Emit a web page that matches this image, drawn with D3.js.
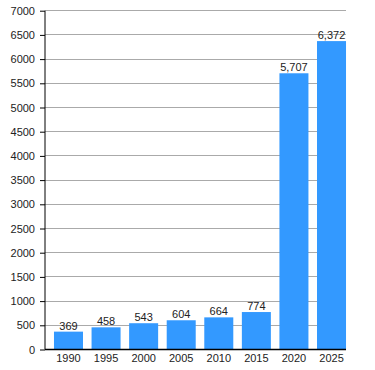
<!DOCTYPE html>
<html><head><meta charset="utf-8">
<script src="https://cdn.jsdelivr.net/npm/d3@7"></script>
<style>body{margin:0;background:#fff}svg{display:block}</style>
</head><body>
<script>
const years = ["1990","1995","2000","2005","2010","2015","2020","2025"];
const values = [369,458,543,604,664,774,5707,6372];
const yTicks = [0,500,1000,1500,2000,2500,3000,3500,4000,4500,5000,5500,6000,6500,7000];

const W=375,H=370;
const svg=d3.select("body").append("svg").attr("width",W).attr("height",H);
const x=d3.scaleBand().domain(years).range([49.7,350.3]).paddingInner(0.228).paddingOuter(0.114);
const y=d3.scaleLinear().domain([0,7000]).range([349.5,10.7]);
const font="Liberation Sans, Arial, sans-serif";

// grid
svg.append("g").selectAll("line").data(yTicks.slice(1)).join("line")
 .attr("x1",45).attr("x2",346).attr("y1",d=>y(d)).attr("y2",d=>y(d))
 .attr("stroke","#aaaaaa").attr("stroke-width",1).attr("shape-rendering","crispEdges");

// bars
svg.append("g").selectAll("rect").data(values).join("rect")
 .attr("x",(d,i)=>x(years[i])).attr("width",x.bandwidth())
 .attr("y",d=>y(d)).attr("height",d=>y(0)-y(d)).attr("fill","#3399ff");

// value labels
svg.append("g").selectAll("text").data(values).join("text")
 .attr("x",(d,i)=>x(years[i])+x.bandwidth()/2).attr("y",d=>y(d)-2)
 .attr("text-anchor","middle").attr("font-family",font).attr("font-size",11).attr("fill","#222")
 .text(d=>d3.format(",")(d));

// y axis
const ya=svg.append("g").attr("transform","translate(45,0)")
 .call(d3.axisLeft(y).tickValues(yTicks).tickSize(5).tickPadding(5).tickFormat(d3.format("d")));
ya.selectAll("text").attr("font-family",font).attr("font-size",11).attr("fill","#222");
ya.select(".domain").attr("stroke","#000").attr("d","M0,10.7V349.5");
ya.selectAll(".tick line").attr("stroke","#000");

// x axis
const xa=svg.append("g").attr("transform","translate(0,349.5)")
 .call(d3.axisBottom(x).tickSize(0).tickPadding(5));
xa.selectAll("text").attr("font-family",font).attr("font-size",11).attr("fill","#222");
xa.select(".domain").attr("stroke","#000").attr("stroke-width",1.5).attr("d","M45,0H346");
</script>
</body></html>
